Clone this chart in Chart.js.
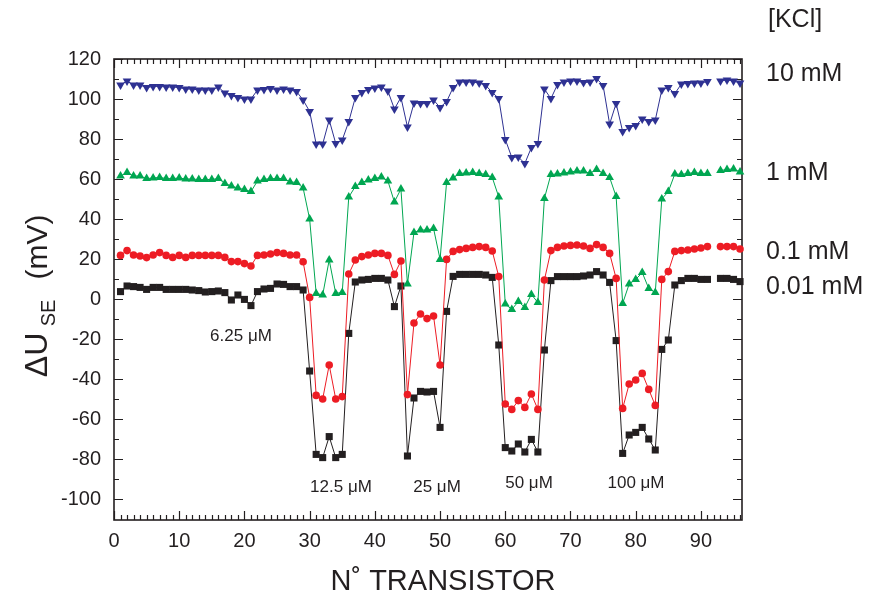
<!DOCTYPE html>
<html>
<head>
<meta charset="utf-8">
<script src="https://cdn.jsdelivr.net/npm/chart.js@4/dist/chart.umd.min.js"></script>
<style>
  body { margin: 0; background: #fff; }
  canvas { display: block; }
</style>
</head>
<body>
<canvas id="chart" width="877" height="603"></canvas>
<script>
// transistor number on the chip
const transistors = [
  1, 2, 3, 4, 5, 6, 7, 8, 9, 10, 11, 12, 13, 14, 15, 16, 17, 18, 19, 20,
  21, 22, 23, 24, 25, 26, 27, 28, 29, 30, 31, 32, 33, 34, 35, 36, 37, 38, 39, 40,
  41, 42, 43, 44, 45, 46, 47, 48, 49, 50, 51, 52, 53, 54, 55, 56, 57, 58, 59, 60,
  61, 62, 63, 64, 65, 66, 67, 68, 69, 70, 71, 72, 73, 74, 75, 76, 77, 78, 79, 80,
  81, 82, 83, 84, 85, 86, 87, 88, 89, 90, 91, 92, 93, 94, 95, 96
];

// delta U_SE (mV) per KCl concentration, transistor 92 has no reading
const kcl10mM = [
  107, 109, 107, 107, 105.7, 106.3, 106.3, 106, 106, 105.7, 105, 105, 104.5, 104.5, 104.5, 106, 103, 101.7, 100.7, 100,
  100, 104.5, 104.7, 105.3, 104.5, 105, 104.5, 103.7, 99.5, 93.8, 77.5, 77.5, 89.5, 77.8, 79.5, 88.7, 100.7, 103.2, 104.8, 105.5,
  106, 104, 95, 100.8, 86, 98, 97.7, 97.7, 99.5, 95.8, 98.7, 105.7, 108.5, 108.5, 108.5, 108, 106.8, 103.3, 100.3, 79.8,
  70.8, 71, 67.8, 75.7, 77.8, 105, 100.2, 107.2, 108.5, 109, 109, 108.2, 108.5, 110.2, 106.8, 87.5, 97.8, 83.7, 85.7, 86.8,
  90, 88.7, 89.5, 104.5, 105.7, 102.7, 107.5, 107.8, 108, 108, 108.7, null, 109, 109.5, 109, 108
];
const kcl1mM = [
  61.5, 63.3, 61.5, 61.5, 60.2, 60.5, 60.8, 60.2, 60.2, 60.5, 60, 60, 59.7, 59.7, 59.8, 60.2, 57.8, 56.5, 55.5, 54.7,
  53.7, 59, 59.8, 60.2, 60.2, 60.3, 58.5, 58.3, 55.5, 40, 2.8, 2, 19.5, 2.8, 3.3, 51, 56.2, 58.2, 59.5, 60.3,
  61, 59, 48.5, 55, 7.5, 33.3, 34.5, 34.5, 35.3, 19.8, 58.3, 60.5, 62.8, 63, 63.2, 62.8, 62.3, 60.8, 51, -2.5,
  -5.2, -1.3, -4.2, 2.3, -1.8, 50.3, 62.3, 62.5, 63, 63.5, 64, 64, 62.8, 64.8, 62.8, 60.8, 51.2, -2.2, 7.5, 9.8,
  13.2, 5.3, 3.2, 50, 53.7, 62.5, 62.3, 62.8, 63.2, 62.8, 62.8, null, 64.2, 64.8, 65, 63.5
];
const kcl01mM = [
  21.8, 24.2, 22, 21.5, 20.7, 22, 23.2, 21.8, 20.8, 21.8, 20.8, 21.8, 21.8, 21.8, 21.8, 21.8, 20.8, 18.7, 18.7, 17.7,
  16.5, 21.8, 22, 22.5, 23.2, 22.8, 22, 22, 18.6, 0.8, -48.2, -50, -33, -50, -48.8, 12.5, 19.5, 21.2, 22, 22.8,
  22.8, 21.8, 12.3, 19, -47.8, -12, -7.5, -9.8, -8.5, -33, 19.8, 23.8, 24.7, 25.3, 25.8, 26.2, 25.8, 24, 11.2, -52.5,
  -55.2, -50.8, -54.2, -47.5, -55.2, 9.5, 24.2, 25.8, 26.5, 26.8, 27, 26.5, 25.3, 27.2, 25.8, 22.8, 10.3, -54.7, -42.5, -40.5,
  -37.2, -45.2, -53.2, 9.8, 13.7, 23.8, 24.2, 24.5, 25, 25.5, 26.2, null, 26.2, 26.2, 26.2, 25
];
const kcl001mM = [
  3.7, 6.5, 6.2, 5.8, 4.8, 5.8, 5.8, 4.8, 4.8, 4.8, 4.8, 4.5, 4.2, 3.5, 3.7, 4, 3.2, -0.5, 2, -0.2,
  -3.3, 3.7, 5, 5.3, 7.5, 7.3, 6.2, 6.2, 4.5, -36, -77.7, -79.3, -68.8, -79.3, -77.7, -17.2, 8.5, 9.5, 9.8, 10.3,
  10.3, 9.5, -3.8, 6.5, -78.5, -49.5, -46.2, -46.5, -46.2, -64.2, -6.2, 11.3, 12.3, 12.3, 12.3, 12.3, 12, 10.8, -23, -74.3,
  -76, -72.5, -76.5, -70.2, -76.5, -25.5, 9.2, 11.2, 11.2, 11.2, 11.2, 11.5, 12, 13.7, 12, 8.3, -20.8, -77.2, -68, -66.7,
  -64.2, -70, -75.5, -25.2, -20.5, 7, 9.2, 10.3, 10.3, 9.8, 9.8, null, 10.3, 10.3, 9.8, 8.7
];

const xTicks = [0, 10, 20, 30, 40, 50, 60, 70, 80, 90];
const yTicks = [-100, -80, -60, -40, -20, 0, 20, 40, 60, 80, 100, 120];
const seriesLabels = ["10 mM", "1 mM", "0.1 mM", "0.01 mM"];
const concLabels = ["6.25 μM", "12.5 μM", "25 μM", "50 μM", "100 μM"];

const FONT = '"Liberation Sans", Arial, Helvetica, sans-serif';
const INK = "#231f20";

function toPoints(values) {
  return transistors.map((n, i) => ({ x: n, y: values[i] }));
}

function series(label, values, color, style, radius, rotation) {
  return {
    label: label,
    data: toPoints(values),
    borderColor: color,
    backgroundColor: color,
    borderWidth: 1,
    pointStyle: style,
    pointRadius: radius,
    pointRotation: rotation || 0,
    pointBorderWidth: 0,
    pointBackgroundColor: color,
    tension: 0,
    spanGaps: false,
    clip: false,
  };
}

// frame with inward ticks on all four sides, then the text
const framePlugin = {
  id: "frame",
  beforeDatasetsDraw(chart) {
    const { ctx, chartArea: a, scales: { x, y } } = chart;
    ctx.save();
    ctx.strokeStyle = INK;
    ctx.lineWidth = 1.2;
    ctx.beginPath();
    for (let v = 0; v <= 96; v++) {
      const px = Math.round(x.getPixelForValue(v)) + 0.5;
      const len = xTicks.includes(v) ? 9 : 5;
      ctx.moveTo(px, a.bottom); ctx.lineTo(px, a.bottom - len);
      ctx.moveTo(px, a.top); ctx.lineTo(px, a.top + len);
    }
    for (let v = -100; v <= 120; v += 10) {
      const py = Math.round(y.getPixelForValue(v)) + 0.5;
      const len = yTicks.includes(v) ? 9 : 5;
      ctx.moveTo(a.left, py); ctx.lineTo(a.left + len, py);
      ctx.moveTo(a.right, py); ctx.lineTo(a.right - len, py);
    }
    ctx.stroke();
    ctx.lineWidth = 1.6;
    ctx.strokeRect(a.left, a.top, a.right - a.left, a.bottom - a.top);
    ctx.restore();
  },
  afterDraw(chart) {
    const { ctx, chartArea: a, scales: { x, y } } = chart;
    ctx.save();
    ctx.fillStyle = INK;

    // tick labels
    ctx.font = "20px " + FONT;
    ctx.textAlign = "right";
    ctx.textBaseline = "middle";
    yTicks.forEach(v => ctx.fillText(String(v), 101, y.getPixelForValue(v)));
    ctx.textAlign = "center";
    xTicks.forEach(v => ctx.fillText(String(v), x.getPixelForValue(v), 541));

    // x title
    ctx.font = "29px " + FONT;
    ctx.fillText("N˚ TRANSISTOR", 443, 582);

    // y title, rotated
    ctx.save();
    ctx.translate(47, 0);
    ctx.rotate(-Math.PI / 2);
    ctx.textBaseline = "alphabetic";
    ctx.textAlign = "center";
    ctx.font = "32px " + FONT;
    ctx.fillText("ΔU", -355, 0);
    ctx.font = "20px " + FONT;
    ctx.fillText("SE", -313, 8);
    ctx.font = "30px " + FONT;
    ctx.fillText("(mV)", -247, 0);
    ctx.restore();

    // concentration labels under each dip
    ctx.font = "17px " + FONT;
    ctx.textAlign = "center";
    ctx.textBaseline = "middle";
    const concPos = [[241, 336], [341, 487], [437, 487], [529, 483], [636, 483]];
    concLabels.forEach((t, i) => ctx.fillText(t, concPos[i][0], concPos[i][1]));

    // legend text on the right
    ctx.font = "25px " + FONT;
    ctx.textAlign = "left";
    ctx.fillText("[KCl]", 768, 20);
    const legY = [74, 173, 252, 287];
    seriesLabels.forEach((t, i) => ctx.fillText(t, 766, legY[i]));
    ctx.restore();
  }
};

new Chart(document.getElementById("chart"), {
  type: "line",
  data: {
    datasets: [
      series("1 mM", kcl1mM, "#00a651", "triangle", 5),
      series("0.1 mM", kcl01mM, "#ed1c24", "circle", 3.8),
      series("0.01 mM", kcl001mM, INK, "rect", 5),
      series("10 mM", kcl10mM, "#2e3192", "triangle", 5, 180),
    ],
  },
  options: {
    responsive: false,
    animation: false,
    layout: { padding: { left: 114, right: 135, top: 59, bottom: 83 } },
    plugins: { legend: { display: false }, tooltip: { enabled: false } },
    scales: {
      x: { type: "linear", min: 0, max: 96.3, display: false },
      y: { type: "linear", min: -110.5, max: 120, display: false },
    },
  },
  plugins: [framePlugin],
});
</script>
</body>
</html>
